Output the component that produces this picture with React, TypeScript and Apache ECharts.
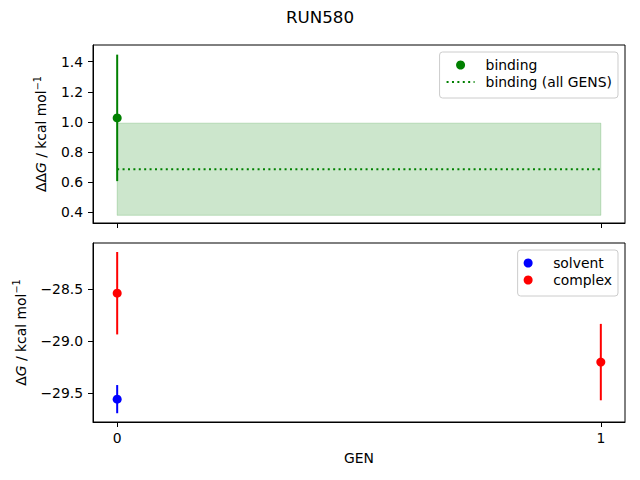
import React, { useEffect, useRef } from 'react';
import * as echarts from 'echarts';

// values
const genTicks = [0, 1];
const bindingGens = [0];
const bindingValues = [1.027];
const bindingErrors = [0.42];
const bindingAllMean = 0.686;
const bindingAllError = 0.306;
const solventGens = [0];
const solventValues = [-29.555];
const solventErrors = [0.135];
const complexGens = [0, 1];
const complexValues = [-28.54, -29.2];
const complexErrors = [0.395, 0.366];
const topTicks = [0.4, 0.6, 0.8, 1.0, 1.2, 1.4];
const bottomTicks = [-29.5, -29.0, -28.5];

const FONT = 'DejaVu Sans';
const FS = 13.9;

const errorBars = (color: string) => (params: any, api: any) => {
  const x = api.value(0);
  const y = api.value(1);
  const e = api.value(2);
  const p1 = api.coord([x, y - e]);
  const p2 = api.coord([x, y + e]);
  return {
    type: 'line',
    shape: { x1: p1[0], y1: p1[1], x2: p2[0], y2: p2[1] },
    style: { stroke: color, lineWidth: 2 },
  };
};

const zip = (xs: number[], ys: number[], es: number[]) => xs.map((x, i) => [x, ys[i], es[i]]);

const App = () => {
  const chartRef = useRef<HTMLDivElement>(null);

  useEffect(() => {
    if (!chartRef.current) return;
    const chart = echarts.init(chartRef.current, null, { renderer: 'svg' });

    const axisLine = { show: true, onZero: false, lineStyle: { color: '#000', width: 1 } };
    const xAxisBase = {
      type: 'value',
      min: -0.05,
      max: 1.05,
      axisLine,
      splitLine: { show: false },
      axisTick: { show: true, length: 5, customValues: genTicks, lineStyle: { color: '#000', width: 1 } },
    };
    const yAxisBase = {
      type: 'value',
      axisLine,
      splitLine: { show: false },
      nameLocation: 'middle',
      nameRotate: 90,
    };
    const nameStyle = {
      color: '#000',
      fontFamily: FONT,
      fontSize: FS,
      lineHeight: 18,
      rich: {
        i: { fontStyle: 'italic', fontFamily: FONT, fontSize: FS, color: '#000', lineHeight: 18 },
        sup: { fontFamily: FONT, fontSize: 9.7, color: '#000', lineHeight: 11, verticalAlign: 'top' },
      },
    };
    const legendBase = {
      orient: 'vertical',
      right: 22,
      itemWidth: 28,
      itemHeight: 9,
      itemGap: 3,
      padding: [6, 6, 9, 6],
      borderColor: '#cccccc',
      borderWidth: 1,
      borderRadius: 3,
      backgroundColor: 'rgba(255,255,255,0.8)',
      align: 'left',
      textStyle: { fontFamily: FONT, fontSize: FS, color: '#000', lineHeight: 14, padding: [0, 0, 0, 6] },
    };

    chart.setOption({
      animation: false,
      title: {
        text: 'RUN580',
        left: 'center',
        top: 8,
        padding: 0,
        textStyle: { fontFamily: FONT, fontSize: 16.7, fontWeight: 'normal', color: '#000' },
      },
      grid: [
        { left: 93, top: 45, width: 532, height: 178, show: true, borderColor: '#000', borderWidth: 1, backgroundColor: 'transparent' },
        { left: 93, top: 243, width: 532, height: 179, show: true, borderColor: '#000', borderWidth: 1, backgroundColor: 'transparent' },
      ],
      xAxis: [
        { ...xAxisBase, gridIndex: 0, axisLabel: { show: false } },
        {
          ...xAxisBase,
          gridIndex: 1,
          name: 'GEN',
          nameLocation: 'middle',
          nameGap: 29,
          nameTextStyle: { color: '#000', fontFamily: FONT, fontSize: FS },
          axisLabel: { show: true, customValues: genTicks, margin: 9, color: '#000', fontFamily: FONT, fontSize: FS },
        },
      ],
      yAxis: [
        {
          ...yAxisBase,
          gridIndex: 0,
          min: 0.329,
          max: 1.511,
          name: 'ΔΔ{i|G} / kcal mol{sup|\u22121}',
          nameGap: 35,
          nameTextStyle: nameStyle,
          axisTick: { show: true, length: 5, customValues: topTicks, lineStyle: { color: '#000', width: 1 } },
          axisLabel: {
            customValues: topTicks,
            margin: 10,
            color: '#000',
            fontFamily: FONT,
            fontSize: FS,
            formatter: (v: number) => v.toFixed(1),
          },
        },
        {
          ...yAxisBase,
          gridIndex: 1,
          min: -29.774,
          max: -28.059,
          name: 'Δ{i|G} / kcal mol{sup|\u22121}',
          nameGap: 59,
          nameTextStyle: nameStyle,
          axisTick: { show: true, length: 5, customValues: bottomTicks, lineStyle: { color: '#000', width: 1 } },
          axisLabel: {
            customValues: bottomTicks,
            margin: 10,
            color: '#000',
            fontFamily: FONT,
            fontSize: FS,
            formatter: (v: number) => v.toFixed(1).replace('-', '\u2212'),
          },
        },
      ],
      legend: [
        {
          ...legendBase,
          top: 52,
          data: ['binding', { name: 'binding (all GENS)', itemStyle: { opacity: 0 } }],
        },
        { ...legendBase, top: 250, data: ['solvent', 'complex'] },
      ],
      series: [
        {
          type: 'custom',
          name: 'band',
          xAxisIndex: 0,
          yAxisIndex: 0,
          z: 1,
          encode: { x: [0, 1], y: [2, 3] },
          data: [[genTicks[0], genTicks[1], bindingAllMean - bindingAllError, bindingAllMean + bindingAllError]],
          renderItem: (params: any, api: any) => {
            const p1 = api.coord([api.value(0), api.value(3)]);
            const p2 = api.coord([api.value(1), api.value(2)]);
            return {
              type: 'rect',
              shape: { x: p1[0], y: p1[1], width: p2[0] - p1[0], height: p2[1] - p1[1] },
              style: { fill: 'rgba(0,128,0,0.2)', stroke: 'rgba(0,128,0,0.2)', lineWidth: 1 },
            };
          },
        },
        {
          type: 'line',
          name: 'binding (all GENS)',
          xAxisIndex: 0,
          yAxisIndex: 0,
          z: 2,
          symbol: 'none',
          color: '#008000',
          lineStyle: { color: '#008000', width: 2, type: [2, 3.4] },
          data: genTicks.map((g) => [g, bindingAllMean]),
        },
        {
          type: 'custom',
          name: 'binding err',
          xAxisIndex: 0,
          yAxisIndex: 0,
          z: 3,
          encode: { x: 0, y: 1 },
          data: zip(bindingGens, bindingValues, bindingErrors),
          renderItem: errorBars('#008000'),
        },
        {
          type: 'scatter',
          name: 'binding',
          xAxisIndex: 0,
          yAxisIndex: 0,
          z: 4,
          symbolSize: 9,
          itemStyle: { color: '#008000', opacity: 1 },
          data: bindingGens.map((g, i) => [g, bindingValues[i]]),
        },
        {
          type: 'custom',
          name: 'solvent err',
          xAxisIndex: 1,
          yAxisIndex: 1,
          z: 3,
          encode: { x: 0, y: 1 },
          data: zip(solventGens, solventValues, solventErrors),
          renderItem: errorBars('#0000ff'),
        },
        {
          type: 'custom',
          name: 'complex err',
          xAxisIndex: 1,
          yAxisIndex: 1,
          z: 3,
          encode: { x: 0, y: 1 },
          data: zip(complexGens, complexValues, complexErrors),
          renderItem: errorBars('#ff0000'),
        },
        {
          type: 'scatter',
          name: 'solvent',
          xAxisIndex: 1,
          yAxisIndex: 1,
          z: 4,
          symbolSize: 9,
          itemStyle: { color: '#0000ff', opacity: 1 },
          data: solventGens.map((g, i) => [g, solventValues[i]]),
        },
        {
          type: 'scatter',
          name: 'complex',
          xAxisIndex: 1,
          yAxisIndex: 1,
          z: 4,
          symbolSize: 9,
          itemStyle: { color: '#ff0000', opacity: 1 },
          data: complexGens.map((g, i) => [g, complexValues[i]]),
        },
      ],
    });

    return () => chart.dispose();
  }, []);

  return (
    <div
      ref={chartRef}
      style={{ position: 'fixed', left: 0, top: 0, width: 640, height: 480, background: '#fff' }}
    />
  );
};

export default App;
